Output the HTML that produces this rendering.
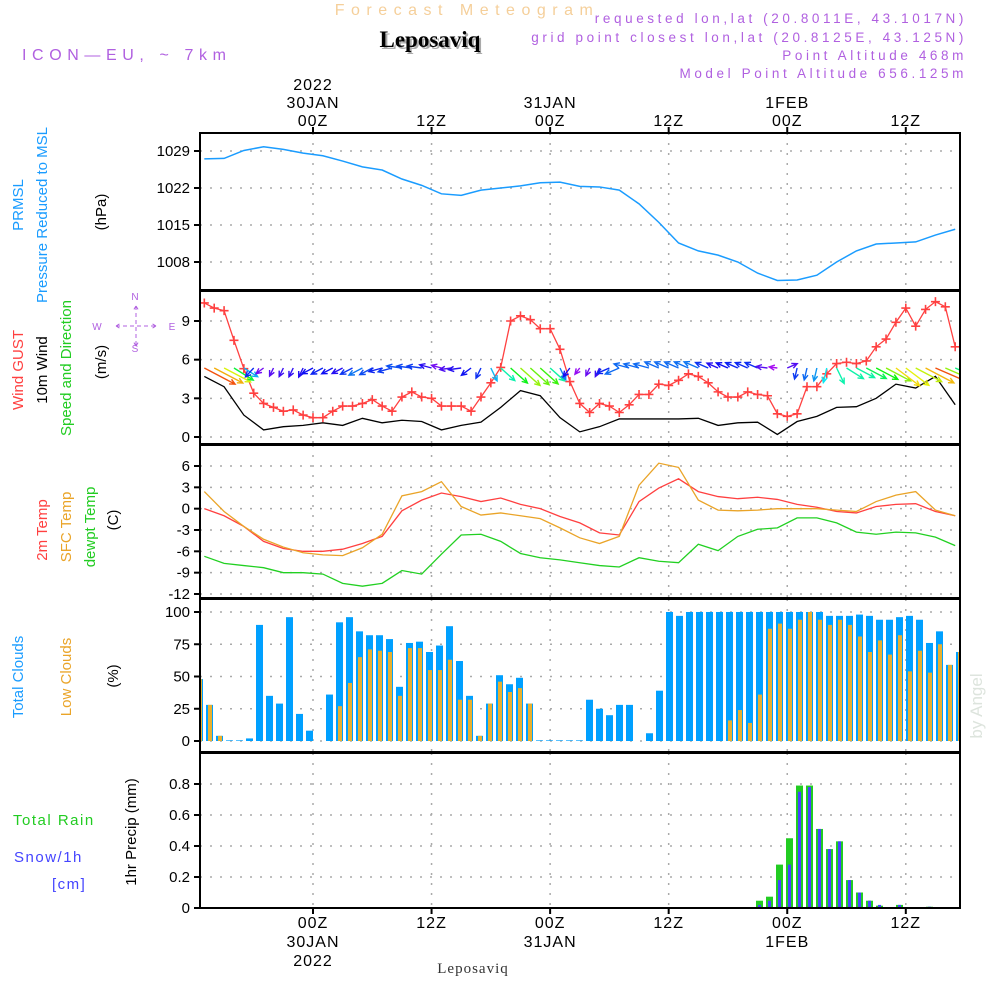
<!DOCTYPE html>
<html><head><meta charset="utf-8">
<style>
html,body{margin:0;padding:0;background:#fff;}
#wrap{position:relative;width:1000px;height:1000px;overflow:hidden;font-family:"Liberation Sans",sans-serif;}
svg text{font-family:"Liberation Sans",sans-serif;}
</style></head>
<body>
<div id="wrap">
<svg id="chart" width="1000" height="1000" viewBox="0 0 1000 1000" xmlns="http://www.w3.org/2000/svg">
<g>
<text x="467" y="15" text-anchor="middle" font-size="16" fill="#f5cf9a" letter-spacing="6.5">Forecast Meteogram</text>
<text x="432" y="49" text-anchor="middle" font-size="23" font-weight="bold" fill="#aaa" style="font-family:'Liberation Serif',serif">Leposaviq</text>
<text x="430" y="47" text-anchor="middle" font-size="23" font-weight="bold" fill="#000" style="font-family:'Liberation Serif',serif">Leposaviq</text>
<text x="22" y="60" font-size="16" fill="#b060e0" letter-spacing="5.6">ICON—EU, ~ 7km</text>
<g font-size="13.5" fill="#b060e0" text-anchor="end" letter-spacing="3.6">
<text x="967" y="23">requested lon,lat (20.8011E, 43.1017N)</text>
<text x="967" y="42">grid point closest lon,lat (20.8125E, 43.125N)</text>
<text x="967" y="60">Point Altitude 468m</text>
<text x="967" y="78">Model Point Altitude 656.125m</text>
</g>
</g>
<g id="frames"></g>
<g id="marks"></g>
<g id="labels" font-size="15"></g>
</svg>
</div>
<script>
// ---------- data ----------
const topTickLabels = [["2022","30JAN","00Z"],["12Z"],["31JAN","00Z"],["12Z"],["1FEB","00Z"],["12Z"]];
const tickHours = [0,12,24,36,48,60];
// 2-hourly series, hours relative to 00Z 30 JAN
const lineHours = [-11,-9,-7,-5,-3,-1,1,3,5,7,9,11,13,15,17,19,21,23,25,27,29,31,33,35,37,39,41,43,45,47,49,51,53,55,57,59,61,63,65];
const pressure = [1027.5,1027.6,1029.1,1029.8,1029.3,1028.6,1028.1,1027.1,1026.0,1025.4,1023.7,1022.5,1020.9,1020.6,1021.6,1022.0,1022.4,1023.0,1023.1,1022.3,1022.2,1021.6,1019.0,1015.5,1011.6,1010.1,1009.3,1008.0,1005.9,1004.5,1004.6,1005.5,1008.0,1010.1,1011.4,1011.6,1011.8,1013.1,1014.2];
const wind10m = [4.7,3.9,1.7,0.55,0.8,0.9,1.1,0.9,1.45,1.1,1.3,1.2,0.55,0.9,1.15,2.3,3.6,3.2,1.5,0.4,0.8,1.4,1.4,1.4,1.4,1.45,0.9,1.1,1.15,0.2,1.2,1.6,2.3,2.35,3.0,4.1,3.8,4.7,2.5];
const temp2m = [0,-1.0,-2.5,-4.6,-5.6,-6.0,-6.0,-5.7,-4.9,-3.9,-0.3,1.2,2.2,1.7,1.0,1.5,0.6,0,-1.1,-2.0,-3.4,-3.7,1.0,2.9,4.2,2.4,1.7,1.4,1.6,1.3,0.6,0.2,-0.4,-0.6,0.3,0.6,0.7,-0.4,-1.0];
const tempSfc = [2.4,-0.4,-2.5,-4.3,-5.4,-6.2,-6.5,-6.6,-5.5,-3.6,1.8,2.4,3.8,0.3,-0.9,-0.6,-1.0,-1.4,-2.7,-4.1,-4.9,-3.9,3.3,6.4,5.8,1.2,-0.2,-0.3,-0.2,0,0,0,-0.2,-0.4,1.0,1.9,2.4,-0.2,-1.0];
const dewpoint = [-6.7,-7.7,-8.0,-8.3,-9.0,-9.0,-9.2,-10.5,-10.9,-10.5,-8.7,-9.2,-6.4,-3.7,-3.6,-4.6,-6.3,-6.9,-7.2,-7.6,-8.0,-8.2,-6.9,-7.4,-7.6,-5.0,-5.9,-3.9,-2.9,-2.7,-1.3,-1.3,-2.0,-3.3,-3.6,-3.3,-3.4,-4.0,-5.2];
// hourly series starting at hour -11
const gust = [10.4,10.0,9.8,7.5,5.3,3.4,2.6,2.3,2.0,2.1,1.7,1.5,1.5,2.0,2.4,2.4,2.6,2.9,2.4,2.0,3.1,3.5,3.1,3.0,2.4,2.4,2.4,2.0,3.1,4.2,5.4,9.0,9.4,9.1,8.4,8.4,6.8,4.3,2.6,1.9,2.6,2.4,1.9,2.5,3.3,3.3,4.1,4.0,4.4,4.9,4.7,4.2,3.5,3.1,3.1,3.5,3.3,3.2,1.8,1.6,1.8,3.9,3.9,4.9,5.7,5.8,5.7,5.9,7.0,7.6,8.9,10.0,8.6,9.9,10.5,10.1,7.0];
const windDir = [125,125,125,130,130,215,225,200,200,200,200,235,235,235,235,235,235,235,250,250,280,280,280,290,290,260,260,225,200,160,140,140,140,140,140,140,160,210,210,200,200,240,240,290,290,290,300,300,300,300,300,300,300,300,300,300,300,280,280,60,190,190,190,190,160,130,125,125,125,125,135,135,125,125,120,120,120];
// hourly bar data (bar index k)
const totalClouds = [48,28,4,0.5,0.5,2,90,35,29,96,21,8,0,36,92,96,85,82,82,79,42,76,77,69,74,89,62,35,4,29,51,44,49,29,0.5,0.5,0.5,0.5,0.5,32,25,20,28,28,0,6,39,100,97,100,100,100,100,100,100,100,100,100,100,100,100,100,100,97,97,97,98,97,94,94,96,97,94,76,85,59,69];
const lowClouds = [48,28,4,0,0,0,0,0,0,0,0,0,0,0,27,45,65,71,70,69,35,72,72,55,55,63,32,32,4,29,46,38,41,29,0,0,0,0,0,0,0,0,0,0,0,0,0,0,0,0,0,0,0,16,24,14,36,87,91,87,94,100,94,90,94,90,81,69,78,67,82,54,70,53,75,59,69];
const rain = [0,0,0,0,0,0,0,0,0,0,0,0,0,0,0,0,0,0,0,0,0,0,0,0,0,0.004,0,0,0,0,0,0,0,0,0,0,0,0,0,0,0,0,0,0,0,0,0,0,0,0,0,0,0,0,0,0,0.047,0.073,0.28,0.45,0.79,0.79,0.51,0.38,0.43,0.18,0.10,0.047,0.015,0.004,0.02,0,0,0.008,0,0,0];
const snow = [0,0,0,0,0,0,0,0,0,0,0,0,0,0,0,0,0,0,0,0,0,0,0,0,0,0.004,0,0,0,0,0,0,0,0,0,0,0,0,0,0,0,0,0,0,0,0,0,0,0,0,0,0,0,0,0,0,0.02,0.047,0.18,0.28,0.75,0.78,0.51,0.38,0.43,0.18,0.10,0.047,0.02,0.004,0.02,0,0.004,0.008,0,0,0];
const pTicks=[1029,1022,1015,1008], wTicks=[9,6,3,0], tTicks=[6,3,0,-3,-6,-9,-12], cTicks=[100,75,50,25,0], rTicks=[0.8,0.6,0.4,0.2,0];

// ---------- scales ----------
const L=200,R=960;
const xH = h => 313 + h*9.88;
const xBar = k => 196 + k*10;
const yP = v => 151 + (1029-v)*5.286;
const yW = v => 437 - v*12.89;
const yT = v => 466 + (6-v)*7.111;
const yC = v => 741 - v*1.29;
const yR = v => 908 - v*155;
const panels=[[133,290],[291,444],[445,598],[599,752],[753,908]];
const NS="http://www.w3.org/2000/svg";
function mk(tag,attrs,parent){const e=document.createElementNS(NS,tag);for(const k in attrs)e.setAttribute(k,attrs[k]);parent.appendChild(e);return e;}
const frames=document.getElementById('frames'), marks=document.getElementById('marks'), labels=document.getElementById('labels');

const defs=mk('defs',{},frames);
const cp=mk('clipPath',{id:'pc'},defs); mk('rect',{x:L,y:133,width:R-L,height:775},cp);

function hgrid(ticks,fy,name){
  ticks.forEach(t=>{const y=fy(t);
    const g=mk('line',{x1:L,x2:R,y1:y,y2:y,stroke:'#aaa','stroke-width':1.5,'stroke-dasharray':'2,8'},frames);
    
    
    const tk=mk('line',{x1:L-6,x2:L,y1:y,y2:y,stroke:'#000','stroke-width':2},frames);
    
    
    const tx=mk('text',{x:L-10,y:y+5,'text-anchor':'end','font-size':15,fill:'#000'},labels);
    tx.textContent=String(t);
    
    
  });
}
panels.forEach(([a,b],i)=>{
  tickHours.forEach(h=>{const x=xH(h);
    const g=mk('line',{x1:x,x2:x,y1:a,y2:b,stroke:'#aaa','stroke-width':1.5,'stroke-dasharray':'2,8'},frames);
    
    
  });
});
hgrid(pTicks,yP,'pressure');hgrid(wTicks,yW,'wind');hgrid(tTicks,yT,'temp');hgrid(cTicks,yC,'cloud');hgrid(rTicks,yR,'precip');
panels.forEach(([a,b],i)=>{
  const r=mk('rect',{x:L,y:a,width:R-L,height:b-a,fill:'none',stroke:'#000','stroke-width':2},labels);
  
  
});
tickHours.forEach(h=>{const x=xH(h);
  mk('line',{x1:x,x2:x,y1:127,y2:134,stroke:'#000','stroke-width':2},labels);
  mk('line',{x1:x,x2:x,y1:907,y2:914,stroke:'#000','stroke-width':2},labels);
});

function polyline(hours,vals,fx,fy,color,name,w){
  const pts=vals.map((v,i)=>fx(hours[i])+','+fy(v)).join(' ');
  const p=mk('polyline',{points:pts,fill:'none',stroke:color,'stroke-width':w||1.3,'clip-path':'url(#pc)'},marks);
  
  
  return p;
}
polyline(lineHours,pressure,xH,yP,'#1a9cff','pressure-line',1.5);
const gustHours=gust.map((v,i)=>i-11);
polyline(lineHours,wind10m,xH,yW,'#000','wind-speed-line');
polyline(gustHours,gust,xH,yW,'#ff4040','gust-line');
gust.forEach((v,i)=>{const x=xH(gustHours[i]),y=yW(v);
  const m=mk('path',{d:`M${x-4.5},${y}H${x+4.5}M${x},${y-4.5}V${y+4.5}`,stroke:'#ff4040','stroke-width':1.6},marks);
  
  
});
function speedAt(h){for(let i=0;i<lineHours.length-1;i++){if(h<=lineHours[i+1]){const t=(h-lineHours[i])/(lineHours[i+1]-lineHours[i]);return wind10m[i]+(wind10m[i+1]-wind10m[i])*Math.max(0,t);}}return wind10m[wind10m.length-1];}
windDir.forEach((d,i)=>{const h=i-11, s=speedAt(h);
  const x0=xH(h),y0=368, len=7+6.5*s, a=d*Math.PI/180;
  const x1=x0+len*Math.sin(a), y1=y0-len*Math.cos(a)*0.75;
  const hue=Math.max(0,Math.min(280,300-60*s));
  const col=`hsl(${hue},90%,50%)`;
  const ang=Math.atan2(y1-y0,x1-x0), hl=6;
  const d1=`M${x0},${y0}L${x1},${y1}M${x1-hl*Math.cos(ang-0.45)},${y1-hl*Math.sin(ang-0.45)}L${x1},${y1}L${x1-hl*Math.cos(ang+0.45)},${y1-hl*Math.sin(ang+0.45)}`;
  const p=mk('path',{d:d1,stroke:col,'stroke-width':1.4,fill:'none','clip-path':'url(#pc)'},marks);
  
  
});
polyline(lineHours,temp2m,xH,yT,'#ff4040','temp-2m-line');
polyline(lineHours,tempSfc,xH,yT,'#eaa428','temp-sfc-line');
polyline(lineHours,dewpoint,xH,yT,'#22d022','dewpoint-line');

totalClouds.forEach((v,k)=>{const x=xBar(k);
  const b=mk('rect',{x:x,y:yC(v),width:7,height:yC(0)-yC(v),fill:'#00a0ff','clip-path':'url(#pc)'},marks);
  
  
  const lv=lowClouds[k];
  const o=mk('rect',{x:x+2,y:yC(lv),width:4,height:yC(0)-yC(lv),fill:'#e8b030','clip-path':'url(#pc)'},marks);
  
  
});
rain.forEach((v,k)=>{const x=xBar(k);
  if(v>0){const b=mk('rect',{x:x,y:yR(v),width:7,height:yR(0)-yR(v),fill:'#22cc22','clip-path':'url(#pc)'},marks);
  
  }
  const s=snow[k];
  if(s>0){const o=mk('rect',{x:x+2,y:yR(s),width:3,height:yR(0)-yR(s),fill:'#4444ff','clip-path':'url(#pc)'},marks);
  
  }
});

tickHours.forEach((h,i)=>{const x=xH(h),lab=topTickLabels[i];
  lab.forEach((t,j)=>{const y=122-(lab.length-1-j)*18;
    const e=mk('text',{x:x,y:y+4,'text-anchor':'middle','font-size':16,fill:'#000','letter-spacing':'1'},labels);
    e.textContent=t;
    
    
  });
  const rev=lab.slice().reverse();
  rev.forEach((t,j)=>{const e=mk('text',{x:x,y:928+j*19,'text-anchor':'middle','font-size':16,fill:'#000','letter-spacing':'1'},labels);
    e.textContent=t;
    
    
  });
});
const foot=mk('text',{x:473,y:973,'text-anchor':'middle','font-size':15,fill:'#333','letter-spacing':'1',style:"font-family:'Liberation Serif',serif"},labels);
foot.textContent='Leposaviq';



function vt(x,y,t,col,name,size){const e=mk('text',{x:0,y:0,transform:`translate(${x},${y}) rotate(-90)`,'text-anchor':'middle','font-size':size||15,fill:col},labels);
  e.textContent=t;
  
  }
vt(23,205,'PRMSL','#1a9cff','pressure-title-1');
vt(47,215,'Pressure Reduced to MSL','#1a9cff','pressure-title-2');
vt(106,212,'(hPa)','#000','pressure-unit');
vt(23,370,'Wind GUST','#ff4040','gust-title');
vt(47,370,'10m Wind','#000','wind-title');
vt(71,368,'Speed and Direction','#22cc22','wind-dir-title');
vt(106,362,'(m/s)','#000','wind-unit');
vt(47,530,'2m Temp','#ff4040','temp-2m-title');
vt(71,527,'SFC Temp','#eaa428','temp-sfc-title');
vt(95,527,'dewpt Temp','#22cc22','dewpoint-title');
vt(118,520,'(C)','#000','temp-unit');
vt(23,677,'Total Clouds','#1a9cff','total-cloud-title');
vt(71,677,'Low Clouds','#eaa428','low-cloud-title');
vt(118,676,'(%)','#000','cloud-unit');
vt(136,832,'1hr Precip (mm)','#000','precip-unit');
vt(982,706,'by Angel','#dde4dd','watermark',17);
function ht(x,y,t,col,name){const e=mk('text',{x:x,y:y,'font-size':15,fill:col,'letter-spacing':'1.5'},labels);
  e.textContent=t;
  
  }
ht(13,825,'Total  Rain','#22cc22','rain-legend');
ht(14,862,'Snow/1h','#4444ff','snow-legend');
ht(52,889,'[cm]','#4444ff','snow-unit');
const cg=mk('g',{fill:'#b060e0','font-size':10},labels);


[['N',135,300],['S',135,352],['W',97,330],['E',172,330]].forEach(([t,x,y])=>{const e=mk('text',{x:x,y:y,'text-anchor':'middle'},cg);e.textContent=t;});
mk('path',{d:'M116,326H156M116,326l5,-3M116,326l5,3M156,326l-5,-3M156,326l-5,3M136,306V346M136,306l-3,5M136,306l3,5M136,346l-3,-5M136,346l3,-5',stroke:'#b060e0','stroke-width':1,'stroke-dasharray':'4,3',fill:'none'},cg);
</script>
</body></html>
